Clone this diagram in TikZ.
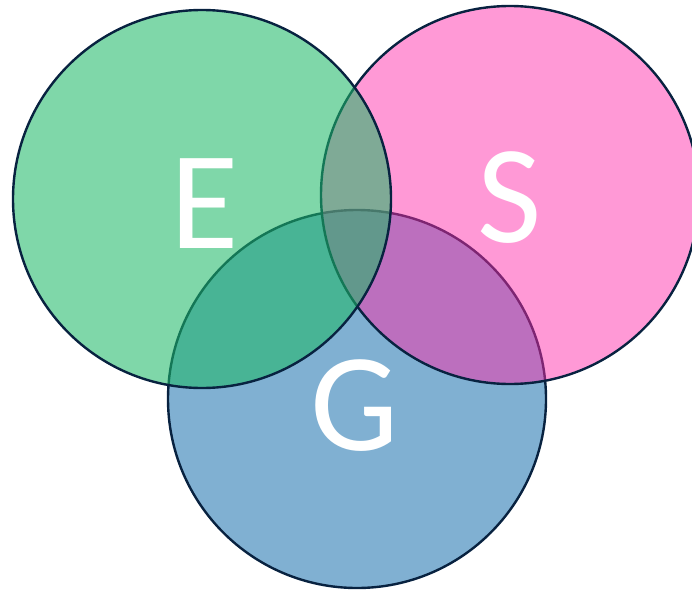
\documentclass[tikz,border=0pt]{standalone}
\usepackage{fontspec}
\setmainfont{Carlito}
\usepackage{xcolor}
\usepackage{tikz}
\usetikzlibrary{positioning}

\definecolor{rimblue}{RGB}{8,34,64}
\definecolor{efill}{RGB}{30,184,103}
\definecolor{sfill}{RGB}{255,42,170}
\definecolor{gfill}{RGB}{128,176,210}

\begin{document}
\begin{tikzpicture}[
  x=1pt,y=-1pt,
  ring/.style={circle,draw=rimblue,line width=2.4pt,inner sep=0pt,minimum size=378pt},
  letter/.style={text=white,font=\fontsize{140}{140}\selectfont,inner sep=0pt}
]
\useasboundingbox (0,0) rectangle (692,591);
% G at the back, then S, then E
\node[ring,fill=gfill] (gcirc) at (357,399) {};
\node[ring,fill=sfill,fill opacity=0.48] (scirc) at (510,195) {};
\node[ring,fill=efill,fill opacity=0.57] (ecirc) at (202,199) {};

\node[letter] (elbl) at (205,204) {E};
\node[letter] (slbl) at (510,198) {S};
\node[letter] (glbl) at (355,406) {G};
\end{tikzpicture}
\end{document}
